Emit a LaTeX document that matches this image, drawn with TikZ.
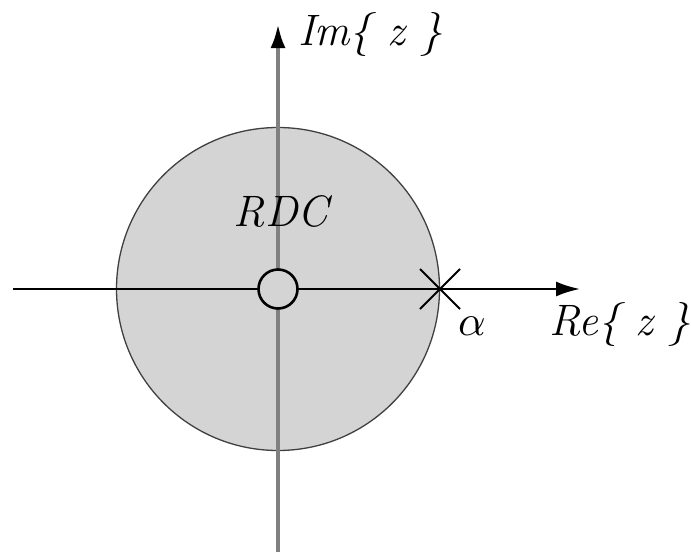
\documentclass[tikz,border=0pt]{standalone}
\usepackage{fontspec}
\usetikzlibrary{arrows.meta}
\definecolor{rocfill}{RGB}{212,212,212}
\definecolor{axisgray}{RGB}{128,128,128}
\tikzset{
  lbl/.style={font=\fontsize{44}{52}\selectfont\itshape, inner sep=0pt, anchor=base west},
  axisline/.style={line width=2.4pt, -{Latex[black,length=24pt,width=15pt]}},
}
\begin{document}
\begin{tikzpicture}[x=1pt,y=-1pt]
\useasboundingbox (0,0) rectangle (691,552);
\coordinate (O) at (278,289);
\coordinate (xl) at (13,289);
\coordinate (xr) at (580,289);
\coordinate (yb) at (278,552);
\coordinate (yt) at (278,24);
\fill[rocfill] (O) circle[radius=161.5];
\draw[line width=1.3pt, black!75] (O) circle[radius=161.5];
\draw[axisline, axisgray, line width=4pt] (yb) -- (yt);
\draw[axisline] (xl) -- (xr);
\node[circle, draw=black, fill=rocfill, line width=2.6pt, minimum size=39pt, inner sep=0pt] (zero) at (O) {};
\coordinate (pole) at (440,289);
\draw[line width=2pt] ([shift={(-20,-20)}]pole) -- ([shift={(20,20)}]pole);
\draw[line width=2pt] ([shift={(-20,20)}]pole) -- ([shift={(20,-20)}]pole);
\node[lbl, anchor=base] (rdc) at (281,226) {RDC};
\node[lbl] (im) at (298,45) {Im\{ z \}};
\node[lbl] (re) at (549,335) {Re\{ z \}};
\node[lbl, font=\fontsize{10}{12}\selectfont] (alpha) at (458,335) {\scalebox{4.3}{$\alpha$}};
\end{tikzpicture}
\end{document}
